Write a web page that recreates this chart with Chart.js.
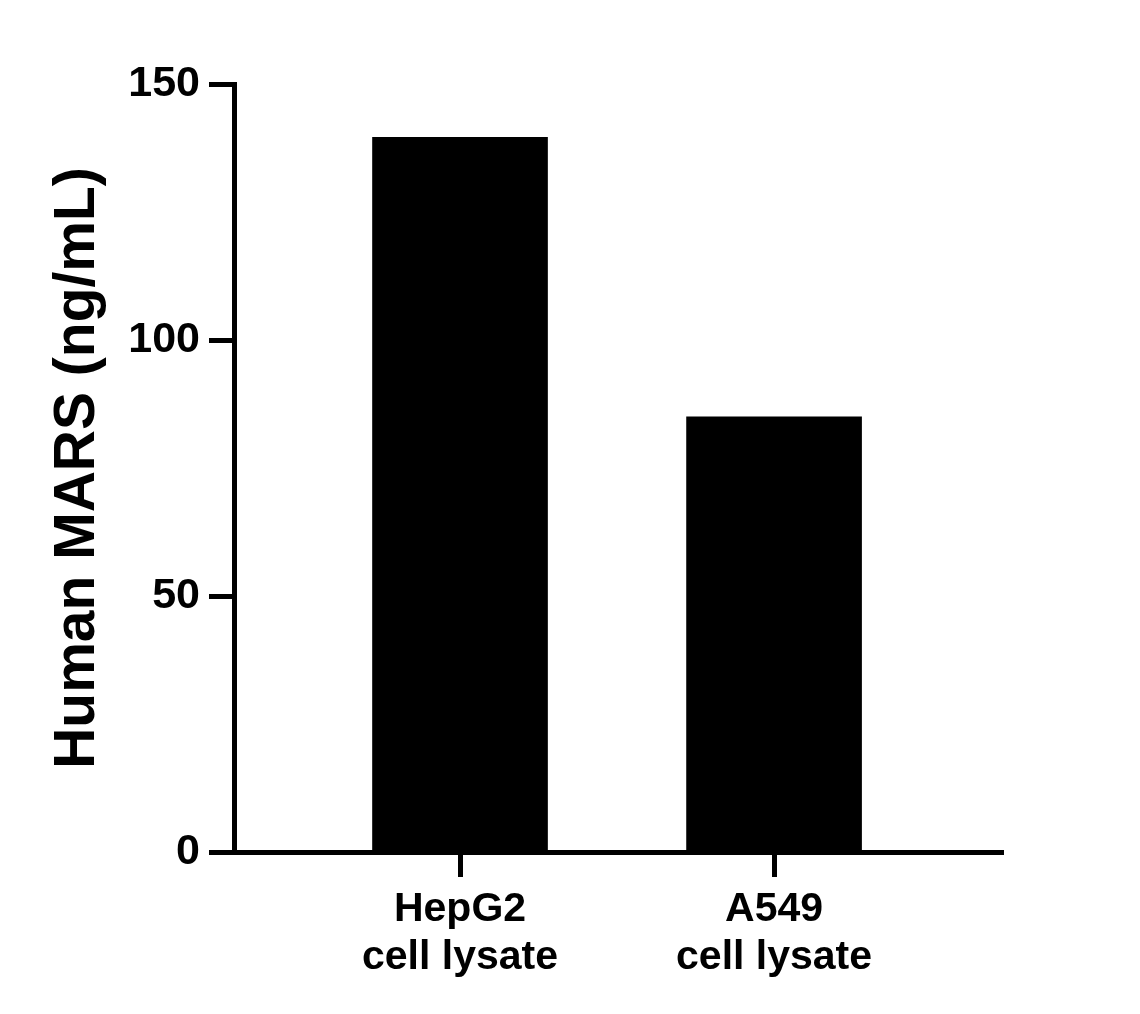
<!DOCTYPE html>
<html>
<head>
<meta charset="utf-8">
<script src="https://cdn.jsdelivr.net/npm/chart.js@4/dist/chart.umd.min.js"></script>
<style>
html,body{margin:0;padding:0;background:#fff;}
#wrap{width:1140px;height:1014px;position:relative;}
</style>
</head>
<body>
<div id="wrap"><canvas id="c" width="1140" height="1014"></canvas></div>
<script>
const categories = [["HepG2","cell lysate"],["A549","cell lysate"]];
const categoryPositions = [0, 1];
const values = [139.6, 85.0];
const yTicks = [0, 50, 100, 150];
const yTitle = "Human MARS (ng/mL)";

const FONT = "'Liberation Sans', Arial, Helvetica, sans-serif";

const points = categoryPositions.map((x, i) => ({x: x, y: values[i]}));

new Chart(document.getElementById('c'), {
  type: 'bar',
  data: {
    datasets: [{
      data: points,
      backgroundColor: '#000000',
      borderWidth: 0,
      barThickness: 175
    }]
  },
  options: {
    responsive: false,
    animation: false,
    devicePixelRatio: 1,
    layout: { padding: { top: 84, right: 137, bottom: 0, left: 0 } },
    plugins: { legend: { display: false }, tooltip: { enabled: false } },
    scales: {
      x: {
        type: 'linear',
        offset: false,
        min: -0.7197,
        max: 1.729,
        afterBuildTicks: (s) => { s.ticks = categoryPositions.map(v => ({value: v})); },
        afterFit: (s) => { s.height = 162; },
        grid: { offset: false, drawOnChartArea: false, tickLength: 25, tickWidth: 5, color: '#000' },
        border: { display: true, color: '#000', width: 5 },
        ticks: {
          autoSkip: false,
          maxRotation: 0,
          padding: 8,
          color: '#000',
          font: { family: FONT, size: 41, weight: 'bold', lineHeight: 1.18 },
          callback: (v) => { const i = categoryPositions.indexOf(v); return i >= 0 ? categories[i] : ''; }
        }
      },
      y: {
        min: 0,
        max: 150,
        afterBuildTicks: (s) => { s.ticks = yTicks.map(v => ({value: v})); },
        afterFit: (s) => { s.width = 234; },
        grid: { drawOnChartArea: false, tickLength: 25, tickWidth: 5, color: '#000' },
        border: { display: true, color: '#000', width: 5 },
        ticks: {
          padding: 9,
          color: '#000',
          font: { family: FONT, size: 43, weight: 'bold' }
        },
        title: {
          display: true,
          text: yTitle,
          color: '#000',
          padding: { top: 44, bottom: 0 },
          font: { family: FONT, size: 57, weight: 'bold' }
        }
      }
    }
  }
});
</script>
</body>
</html>
